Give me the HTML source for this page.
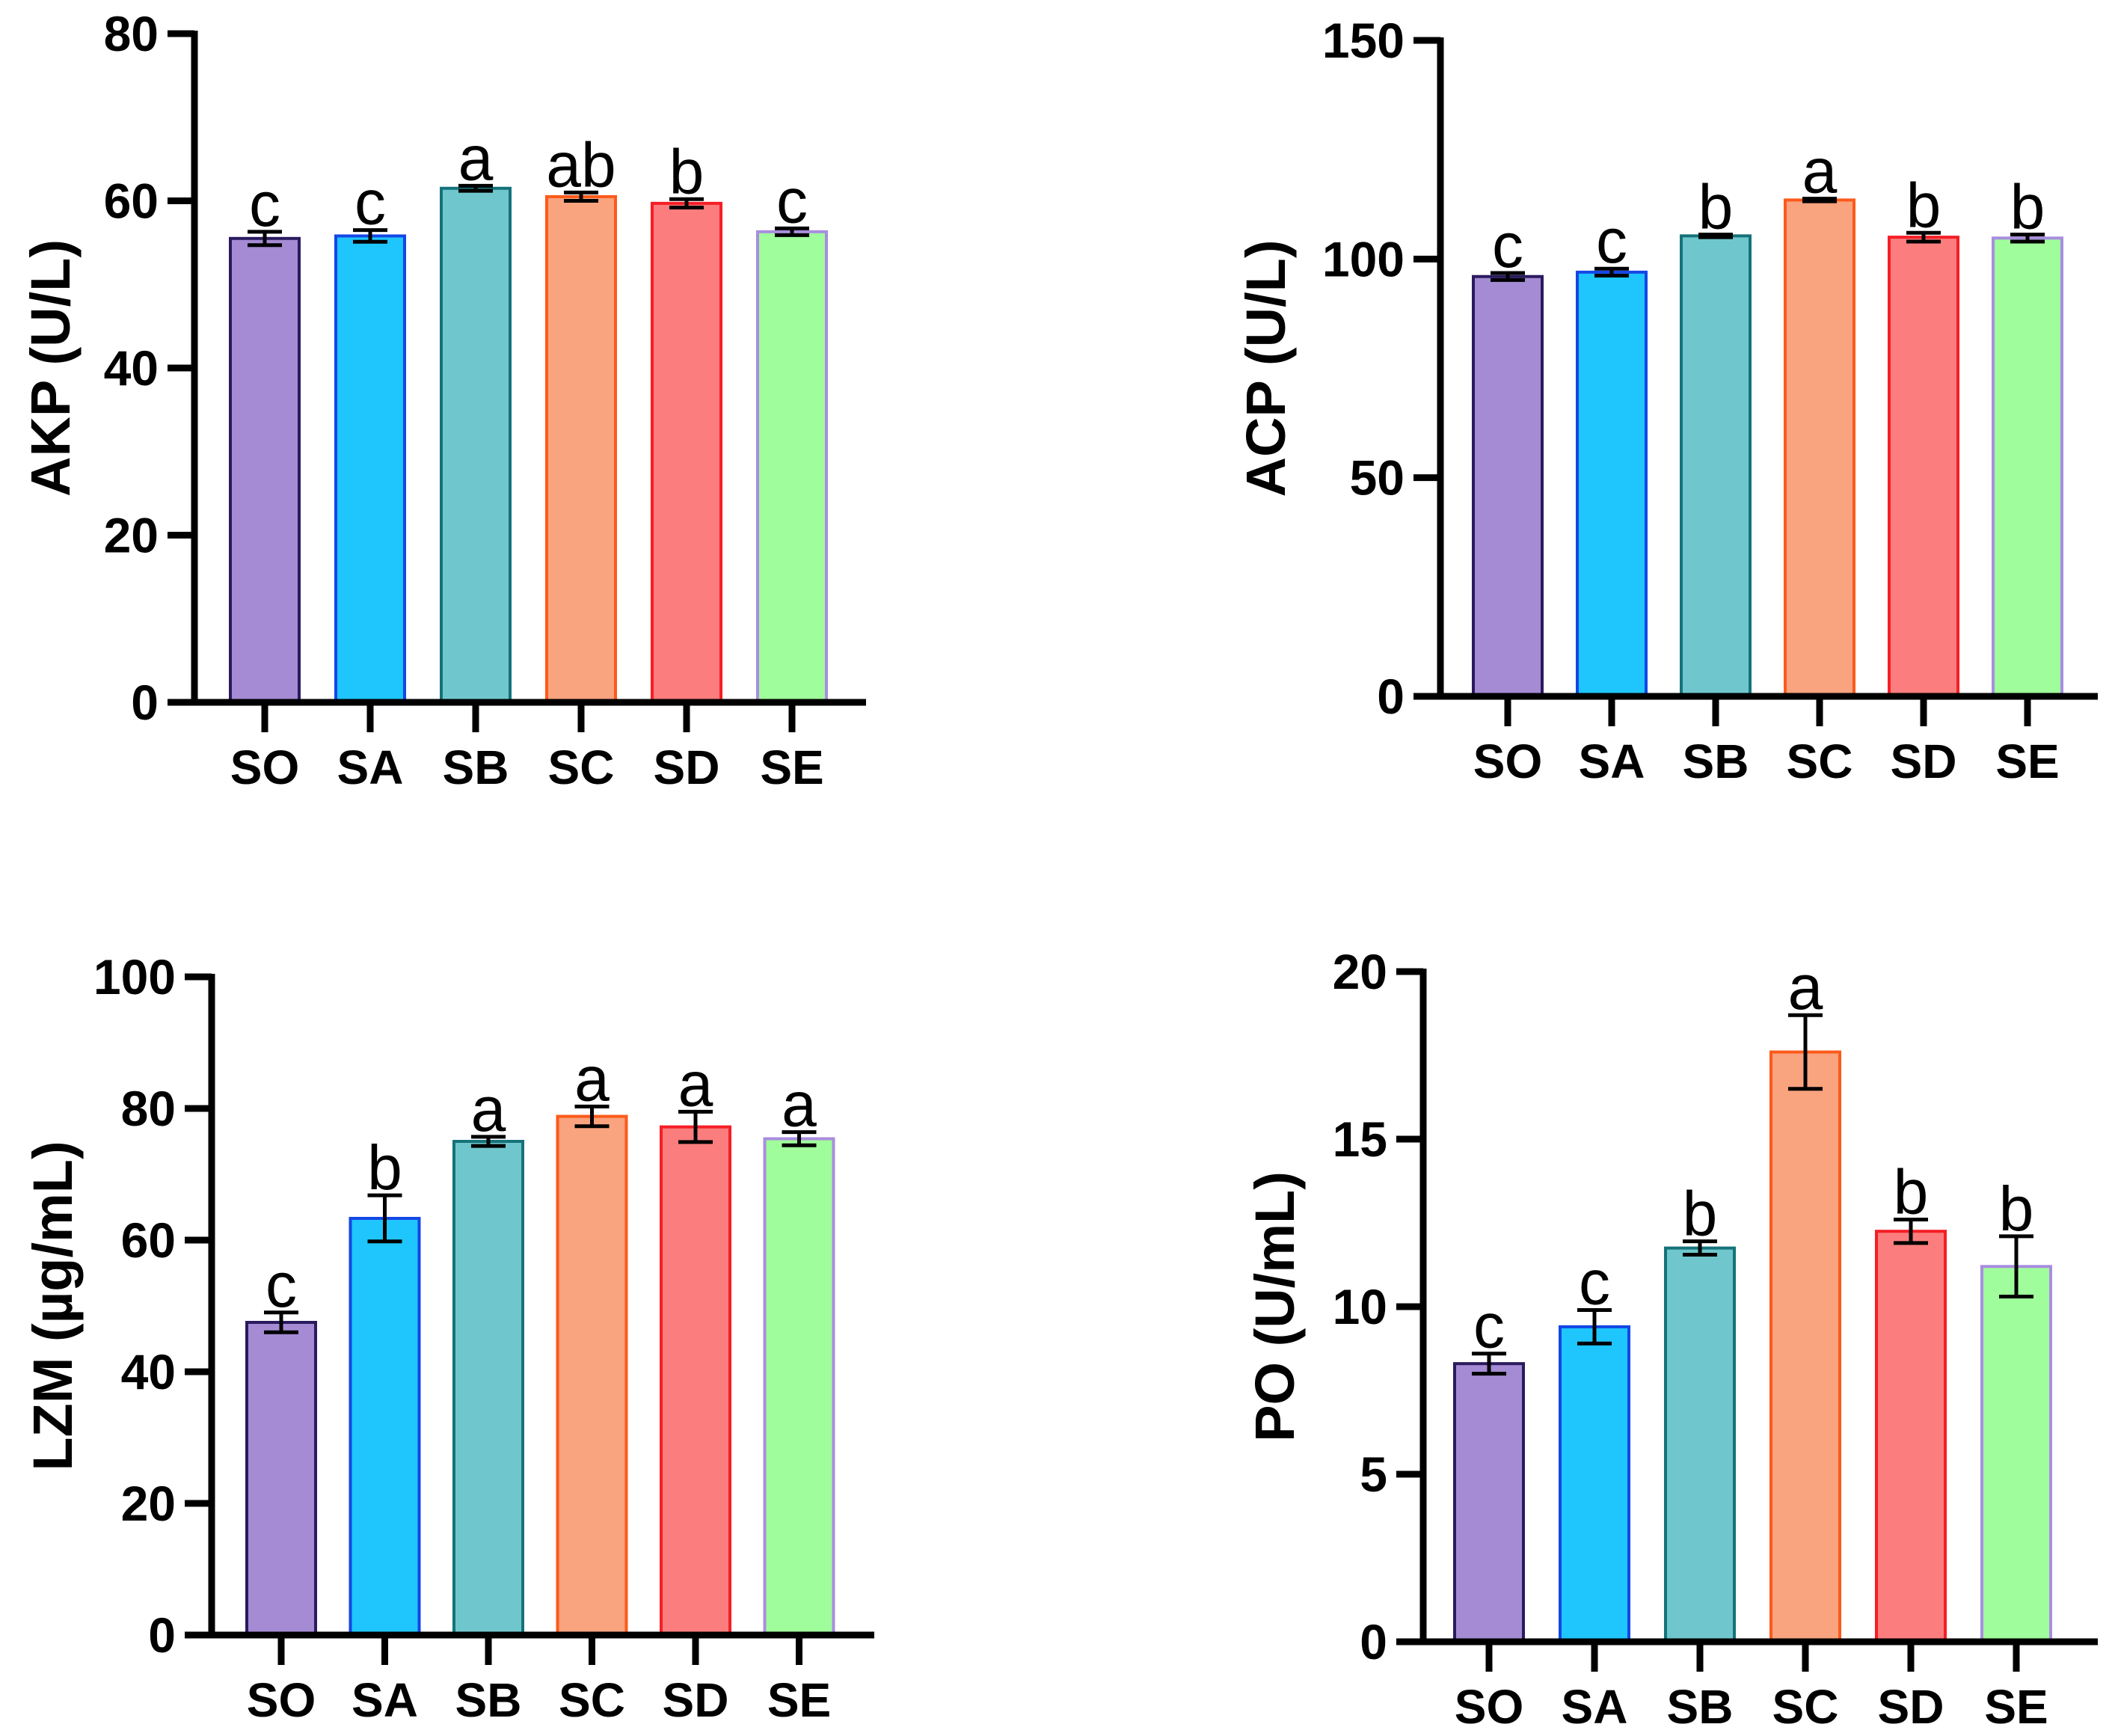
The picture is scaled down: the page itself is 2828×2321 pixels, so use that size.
<!DOCTYPE html>
<html><head><meta charset="utf-8">
<style>
html,body{margin:0;padding:0;background:#fff;}
svg{display:block;}
text{font-family:"Liberation Sans",Arial,sans-serif;}
</style></head>
<body>
<svg id="fig" width="2828" height="2321" viewBox="0 0 2828 2321" xmlns="http://www.w3.org/2000/svg"></svg>
<script>
const categories = ["SO","SA","SB","SC","SD","SE"];
const akpValues = [55.5,55.8,61.5,60.5,59.7,56.3];
const akpErrors = [0.8,0.7,0.3,0.5,0.5,0.4];
const akpLetters = ["c","c","a","ab","b","c"];
const akpTicks = [0,20,40,60,80];
const acpValues = [96,97,105.3,113.5,105,104.8];
const acpErrors = [0.8,0.8,0.3,0.3,1.0,0.8];
const acpLetters = ["c","c","b","a","b","b"];
const acpTicks = [0,50,100,150];
const lzmValues = [47.5,63.3,75,78.8,77.2,75.4];
const lzmErrors = [1.5,3.5,0.7,1.5,2.3,1.0];
const lzmLetters = ["c","b","a","a","a","a"];
const lzmTicks = [0,20,40,60,80,100];
const poValues = [8.3,9.4,11.75,17.6,12.25,11.2];
const poErrors = [0.3,0.5,0.2,1.1,0.35,0.9];
const poLetters = ["c","c","b","a","b","b"];
const poTicks = [0,5,10,15,20];

const fills = ["#a48bd3","#1ec6fd","#6fc7cd","#f9a37f","#fb7d7d","#a0fd9b"];
const strokes = ["#2a1a5e","#1446e6","#15727a","#fc5a1a","#f51e26","#a98de0"];
const NS = "http://www.w3.org/2000/svg";
const svg = document.getElementById("fig");

function mk(tag, attrs, parent){
  const e = document.createElementNS(NS, tag);
  for (const k in attrs) e.setAttribute(k, attrs[k]);
  parent.appendChild(e);
  return e;
}

function panel(cfg){
  const g = mk("g", {}, svg);
  
  
  const max = cfg.ticks[cfg.ticks.length-1];
  const y = v => cfg.y0 - (v/max)*(cfg.y0 - cfg.yTop);
  const x = i => cfg.x0 + i*cfg.step;
  const bw = 92;
  cfg.values.forEach((v,i)=>{
    const r = mk("rect", {x:x(i)-bw/2, y:y(v), width:bw, height:cfg.y0-y(v), fill:fills[i], stroke:strokes[i], "stroke-width":4}, g);
    
    
    const e = cfg.errors[i];
    const eg = mk("g", {stroke:"#000", "stroke-width":5, fill:"none"}, g);
    
    
    mk("line", {x1:x(i), x2:x(i), y1:y(v+e), y2:y(v-e)}, eg);
    mk("line", {x1:x(i)-23, x2:x(i)+23, y1:y(v+e), y2:y(v+e)}, eg);
    mk("line", {x1:x(i)-23, x2:x(i)+23, y1:y(v-e), y2:y(v-e)}, eg);
    const t = mk("text", {x:x(i), y:y(v+e)-8, "font-size":84, "text-anchor":"middle", fill:"#000"}, g);
    t.textContent = cfg.letters[i];
    
    
    const tk = mk("line", {x1:x(i), x2:x(i), y1:cfg.y0, y2:cfg.y0+40, stroke:"#000", "stroke-width":9}, g);
    
    
    const cl = mk("text", {x:x(i), y:cfg.y0+109, "font-size":64, "font-weight":"bold", "text-anchor":"middle", fill:"#000"}, g);
    cl.textContent = categories[i];
    
    
  });
  const ya = mk("line", {x1:cfg.ax, x2:cfg.ax, y1:cfg.yTop-4, y2:cfg.y0+4, stroke:"#000", "stroke-width":9}, g);
  
  
  const xa = mk("line", {x1:cfg.ax-36, x2:cfg.xEnd, y1:cfg.y0, y2:cfg.y0, stroke:"#000", "stroke-width":9}, g);
  
  
  cfg.ticks.forEach(tv=>{
    const l = mk("line", {x1:cfg.ax-36, x2:cfg.ax, y1:y(tv), y2:y(tv), stroke:"#000", "stroke-width":9}, g);
    
    
    const t = mk("text", {x:cfg.ax-48, y:y(tv)+23, "font-size":66, "font-weight":"bold", "text-anchor":"end", fill:"#000"}, g);
    t.textContent = tv;
    
    
  });
  const tt = mk("text", {x:0, y:0, "font-size":74, "font-weight":"bold", "text-anchor":"middle", fill:"#000",
    transform:"translate(" + (cfg.titleX) + "," + ((cfg.yTop+cfg.y0)/2) + ") rotate(-90)"}, g);
  tt.textContent = cfg.title;
  
  
}

panel({name:"akp", values:akpValues, errors:akpErrors, letters:akpLetters, ticks:akpTicks,
  ax:260, y0:939, yTop:45, x0:354, step:141, xEnd:1158, titleX:93, title:"AKP (U/L)"});
panel({name:"acp", values:acpValues, errors:acpErrors, letters:acpLetters, ticks:acpTicks,
  ax:1926, y0:931, yTop:54, x0:2016, step:139, xEnd:2805, titleX:1718, title:"ACP (U/L)"});
panel({name:"lzm", values:lzmValues, errors:lzmErrors, letters:lzmLetters, ticks:lzmTicks,
  ax:283, y0:2186, yTop:1306, x0:376, step:138.5, xEnd:1169, titleX:96, title:"LZM (µg/mL)"});
panel({name:"po", values:poValues, errors:poErrors, letters:poLetters, ticks:poTicks,
  ax:1903, y0:2195, yTop:1299, x0:1991, step:141, xEnd:2805, titleX:1730, title:"PO (U/mL)"});
</script>
</body></html>
